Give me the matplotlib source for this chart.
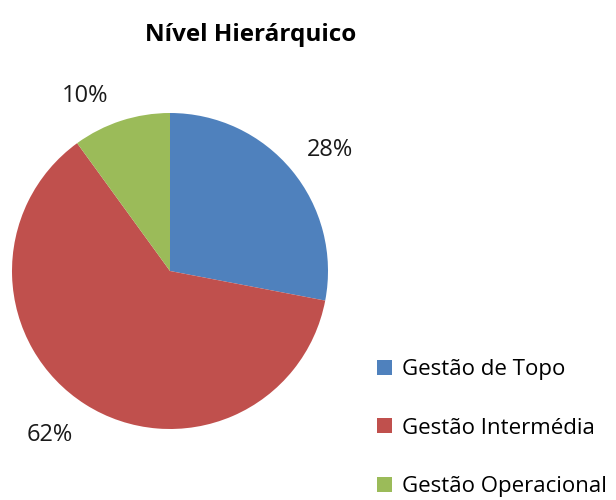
import matplotlib
matplotlib.use("Agg")
import matplotlib.pyplot as plt
import numpy as np
from matplotlib.patches import Patch

plt.rcParams['font.family'] = ['Open Sans', 'DejaVu Sans']

labels = ['Gestão de Topo', 'Gestão Intermédia', 'Gestão Operacional']
values = [28, 62, 10]
colors = ['#4F81BD', '#C0504D', '#9BBB59']

# label placement (distance from centre, angle shift from wedge middle)
lbl_dist = [1.27, 1.29, 1.23]
lbl_shift = [-2.5, -3.8, 7.9]

fig = plt.figure(figsize=(6.16, 5.0), dpi=100)
# pie centre ~ (170, 271) px, radius ~158 px
ax = fig.add_axes([12 / 616, 71 / 500, 316 / 616, 316 / 500])
wedges, texts, autotexts = ax.pie(values, colors=colors, startangle=90,
                                  counterclock=False, radius=1,
                                  autopct='%1.0f%%', pctdistance=1.26,
                                  wedgeprops={'linewidth': 0})
for w, t, d, s in zip(wedges, autotexts, lbl_dist, lbl_shift):
    ang = np.deg2rad((w.theta1 + w.theta2) / 2 + s)
    t.set_position((d * np.cos(ang), d * np.sin(ang)))
    t.set_fontsize(17)
    t.set_color('#1a1a1a')
ax.set_xlim(-1, 1)
ax.set_ylim(-1, 1)
ax.set_aspect('equal')
ax.axis('off')

fig.text(251 / 616, 1 - 35 / 500, 'Nível Hierárquico', ha='center',
         va='center', fontsize=17.5, fontweight='bold')

handles = [Patch(facecolor=c, edgecolor='none') for c in colors]
fig.legend(handles, labels, loc='upper left',
           bbox_to_anchor=(377 / 616, 1 - 359 / 500), frameon=False,
           fontsize=16, labelspacing=1.69, handlelength=0.68,
           handleheight=0.68, handletextpad=0.45, borderpad=0,
           borderaxespad=0)

fig.savefig('out.png', dpi=100)
